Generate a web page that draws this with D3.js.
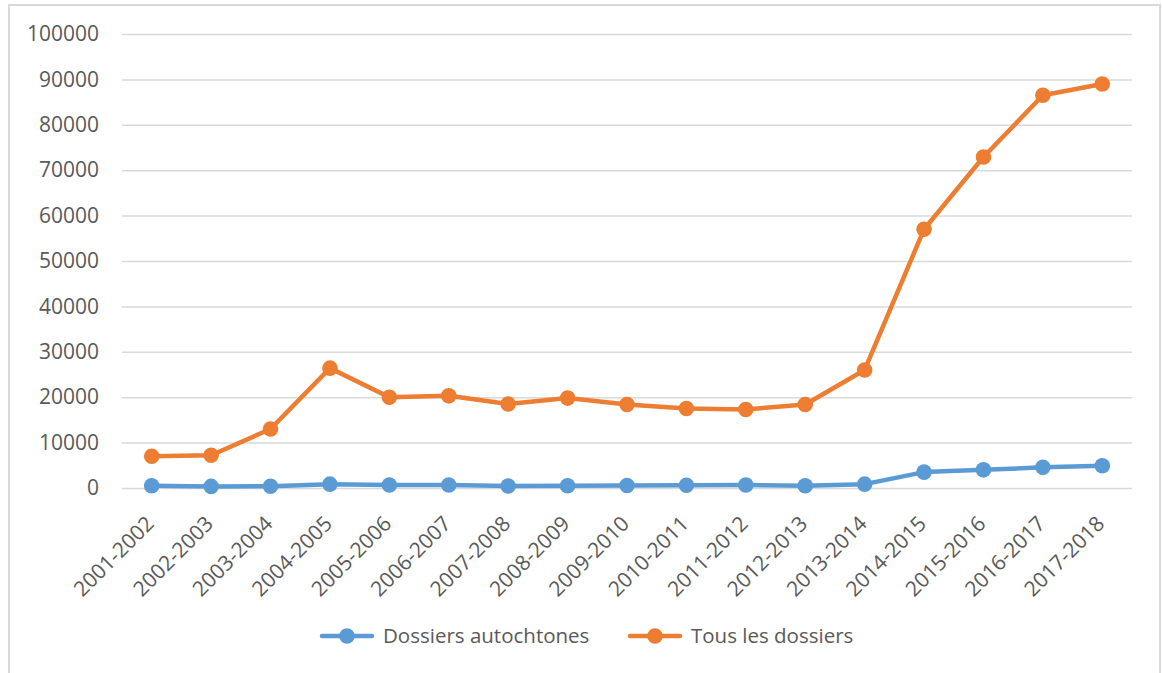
<!DOCTYPE html>
<html>
<head>
<meta charset="utf-8">
<script src="https://cdn.jsdelivr.net/npm/d3@7"></script>
<style>
  html, body { margin: 0; padding: 0; background: #fff; }
  svg { display: block; }
</style>
</head>
<body>
<svg id="chart" width="1162" height="673"></svg>
<script>
// School years
const categories = [
  "2001-2002", "2002-2003", "2003-2004", "2004-2005", "2005-2006", "2006-2007",
  "2007-2008", "2008-2009", "2009-2010", "2010-2011", "2011-2012", "2012-2013",
  "2013-2014", "2014-2015", "2015-2016", "2016-2017", "2017-2018"
];
// Number of files per year
const dossiersAutochtones = [500, 350, 400, 850, 650, 650, 450, 500, 550, 600, 650, 500, 850, 3500, 4000, 4550, 4900];
const tousLesDossiers = [7000, 7200, 13000, 26400, 20000, 20300, 18500, 19800, 18400, 17500, 17300, 18400, 26000, 57000, 72900, 86500, 89000];
const yTicks = [0, 10000, 20000, 30000, 40000, 50000, 60000, 70000, 80000, 90000, 100000];

const seriesList = [
  { name: "Dossiers autochtones", values: dossiersAutochtones, color: "#5B9BD5" },
  { name: "Tous les dossiers", values: tousLesDossiers, color: "#ED7D31" }
];

const svg = d3.select("#chart");
const textColor = "#595959";
const gridColor = "#d9d9d9";
const fontFamily = "'Open Sans', 'Liberation Sans', sans-serif";
const axisFontSize = 21;
const legendFontSize = 20.5;

// Outer frame
svg.append("rect")
  .attr("x", 9).attr("y", 5).attr("width", 1151).attr("height", 672)
  .attr("fill", "none").attr("stroke", gridColor).attr("stroke-width", 2);

const x = d3.scalePoint().domain(categories).range([122, 1132]).padding(0.5);
const y = d3.scaleLinear().domain([0, 100000]).range([488, 34]);

// Y axis: labels + horizontal gridlines
const yAxis = svg.append("g")
  .attr("transform", "translate(122,0)")
  .call(d3.axisLeft(y).tickValues(yTicks).tickSize(-1010).tickPadding(23).tickFormat(d3.format("d")))
  .attr("font-family", fontFamily)
  .attr("font-size", axisFontSize);
yAxis.select(".domain").remove();
yAxis.selectAll(".tick line").attr("stroke", gridColor).attr("stroke-width", 1.5);
yAxis.selectAll(".tick text").attr("fill", textColor);

// X axis: rotated category labels
const xAxis = svg.append("g")
  .attr("transform", "translate(0,488)")
  .call(d3.axisBottom(x).tickSize(0).tickPadding(0))
  .attr("font-family", fontFamily)
  .attr("font-size", axisFontSize);
xAxis.select(".domain").remove();
xAxis.selectAll(".tick text")
  .attr("fill", textColor)
  .attr("text-anchor", "end")
  .attr("y", 0).attr("dy", 0)
  .attr("transform", "translate(3,37) rotate(-45)");

// Lines and markers
const line = d3.line()
  .x((d, i) => x(categories[i]))
  .y(d => y(d));

seriesList.forEach(s => {
  const g = svg.append("g");
  g.append("path")
    .datum(s.values)
    .attr("d", line)
    .attr("fill", "none")
    .attr("stroke", s.color)
    .attr("stroke-width", 4.5)
    .attr("stroke-linejoin", "round")
    .attr("stroke-linecap", "round");
  g.selectAll("circle")
    .data(s.values)
    .join("circle")
    .attr("cx", (d, i) => x(categories[i]))
    .attr("cy", d => y(d))
    .attr("r", 7.8)
    .attr("fill", s.color);
});

// Legend
const legend = svg.append("g")
  .attr("transform", "translate(0,636)")
  .attr("font-family", fontFamily)
  .attr("font-size", legendFontSize);
const legendStarts = [322, 630];
seriesList.forEach((s, i) => {
  const lg = legend.append("g").attr("transform", `translate(${legendStarts[i]},0)`);
  lg.append("line")
    .attr("x1", 0).attr("x2", 50).attr("y1", 0).attr("y2", 0)
    .attr("stroke", s.color).attr("stroke-width", 4.5).attr("stroke-linecap", "round");
  lg.append("circle").attr("cx", 25).attr("cy", 0).attr("r", 7.8).attr("fill", s.color);
  lg.append("text")
    .attr("x", 61).attr("y", 0).attr("dy", "0.36em")
    .attr("fill", textColor)
    .text(s.name);
});
</script>
</body>
</html>
